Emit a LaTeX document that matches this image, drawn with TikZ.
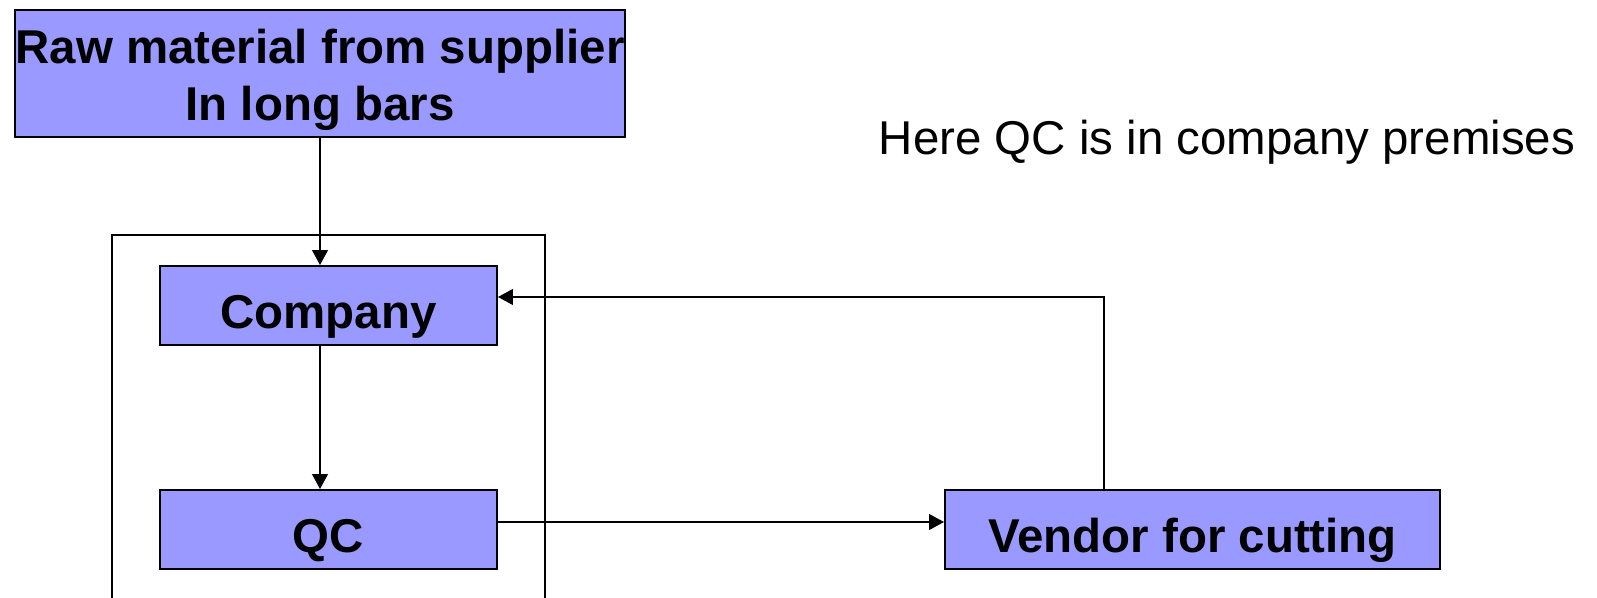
\documentclass[tikz,border=0pt]{standalone}
\usepackage{fontspec}
\setmainfont{Liberation Sans}
\usepackage{xcolor}
\usetikzlibrary{arrows.meta, positioning, calc}
\definecolor{boxblue}{RGB}{153,153,255}

\begin{document}
\begin{tikzpicture}[
    box/.style={rectangle, draw, line width=1.1pt, fill=boxblue, inner sep=0pt, align=center,
                text height=32pt, text depth=6pt, font=\fontsize{27}{32}\selectfont\bfseries},
    arrow/.style={-{Triangle[length=8.5pt, width=9pt]}, line width=0.85pt},
    note/.style={font=\fontsize{27}{32}\selectfont}
  ]
    \useasboundingbox (0,0) rectangle (31.94,-11.96);
    \clip (0,0) rectangle (31.94,-11.96);

    % Company premises frame
    \node[draw, line width=0.9pt, minimum width=8.66cm, minimum height=9cm, anchor=north] (premises) at (6.57,-4.68) {};

    % Boxes
    \node[box, text height=59pt, minimum width=12.16cm, minimum height=2.54cm] (supplier) at (6.40,-1.47) {Raw material from supplier\\In long bars};
    \node[box, minimum width=6.74cm, minimum height=1.58cm] (company) at (6.57,-6.11) {Company};
    \node[box, minimum width=6.74cm, minimum height=1.58cm] (qc) at (6.57,-10.59) {QC};
    \node[box, minimum width=9.90cm, minimum height=1.58cm] (vendor) at (23.85,-10.59) {Vendor for cutting};

    % Note
    \node[note] (remark) at (24.54,-2.84) {Here QC is in company premises};

    % Arrows
    \coordinate (back) at (22.08,-5.94);
    \coordinate (out) at (9.94,-10.44);
    \draw[arrow] (supplier.south) -- (supplier.south |- company.north);
    \draw[arrow] (company.south -| supplier.south) -- (qc.north -| supplier.south);
    \draw[arrow] (out) -- (out -| vendor.west);
    \draw[arrow] (vendor.north -| back) -- (back) -- (back -| company.east);

  \end{tikzpicture}
\end{document}
